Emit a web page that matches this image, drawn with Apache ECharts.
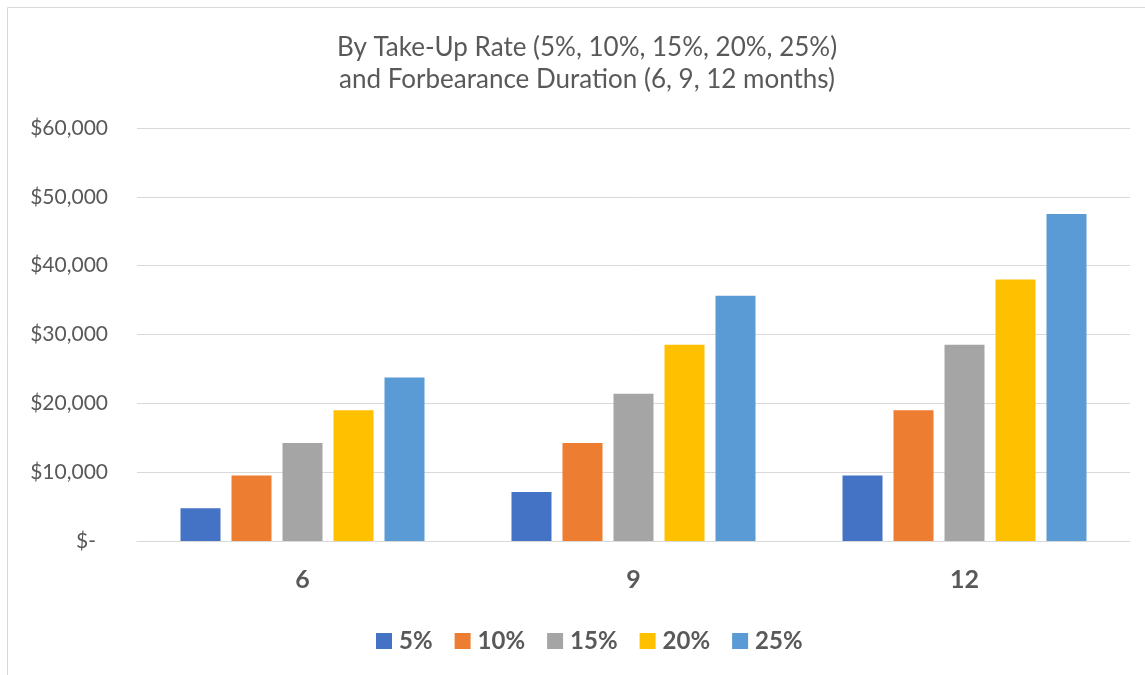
<!DOCTYPE html>
<html><head><meta charset="utf-8">
<script src="https://cdn.jsdelivr.net/npm/echarts@6/dist/echarts.min.js"></script>
<style>html,body{margin:0;padding:0;background:#fff}#c{width:1145px;height:675px}</style>
</head><body><div id="c"></div>
<script>
const categories = ['6', '9', '12'];
const seriesNames = ['5%', '10%', '15%', '20%', '25%'];
const s5 = [4750, 7125, 9500];
const s10 = [9500, 14250, 19000];
const s15 = [14250, 21375, 28500];
const s20 = [19000, 28500, 38000];
const s25 = [23750, 35625, 47500];
const yTicks = [0, 10000, 20000, 30000, 40000, 50000, 60000];
const colors = ['#4472C4', '#ED7D31', '#A5A5A5', '#FFC000', '#5B9BD5'];
const titleLines = ['By Take-Up Rate (5%, 10%, 15%, 20%, 25%)', 'and Forbearance Duration (6, 9, 12 months)'];

const FONT = 'Lato, "Open Sans", sans-serif';
const allSeries = [s5, s10, s15, s20, s25];
const chart = echarts.init(document.getElementById('c'), null, {renderer: 'canvas'});
chart.setOption({
  animation: false,
  color: colors,
  graphic: [{type: 'rect', shape: {x: 7.5, y: 7.5, width: 1160, height: 700}, style: {fill: 'none', stroke: '#D9D9D9', lineWidth: 1}, silent: true}],
  title: {
    text: titleLines.join('\n'), left: 582, top: 27, textAlign: 'center',
    textStyle: {fontFamily: FONT, fontSize: 26, fontWeight: 'normal', color: '#595959', lineHeight: 32}
  },
  legend: {
    data: seriesNames, left: 371, top: 624, itemWidth: 16, itemHeight: 16, itemGap: 22,
    icon: 'rect',
    textStyle: {fontFamily: FONT, fontSize: 24, fontWeight: 'bold', color: '#595959', padding: [0, 0, 0, 2]}
  },
  grid: {left: 137, right: 15, top: 128, bottom: 134, containLabel: false},
  xAxis: {
    type: 'category', data: categories,
    axisLine: {show: true, lineStyle: {color: '#D9D9D9', width: 1}},
    axisTick: {show: false},
    axisLabel: {fontFamily: FONT, fontSize: 25, fontWeight: 'bold', color: '#595959', margin: 26}
  },
  yAxis: {
    type: 'value', min: yTicks[0], max: yTicks[yTicks.length - 1], interval: yTicks[1] - yTicks[0],
    axisLine: {show: false}, axisTick: {show: false},
    splitLine: {lineStyle: {color: '#D9D9D9', width: 1}},
    axisLabel: {
      fontFamily: FONT, fontSize: 21, color: '#595959', margin: 29,
      formatter: v => v === 0 ? '{z|$-}' : '$' + v.toLocaleString('en-US'),
      rich: {z: {fontFamily: FONT, fontSize: 21, color: '#595959', padding: [0, 12, 0, 0]}}
    }
  },
  series: seriesNames.map((n, i) => ({
    name: n, type: 'bar', data: allSeries[i], barWidth: 40, barGap: '27.5%',
    itemStyle: {color: colors[i]}
  }))
});
</script></body></html>
